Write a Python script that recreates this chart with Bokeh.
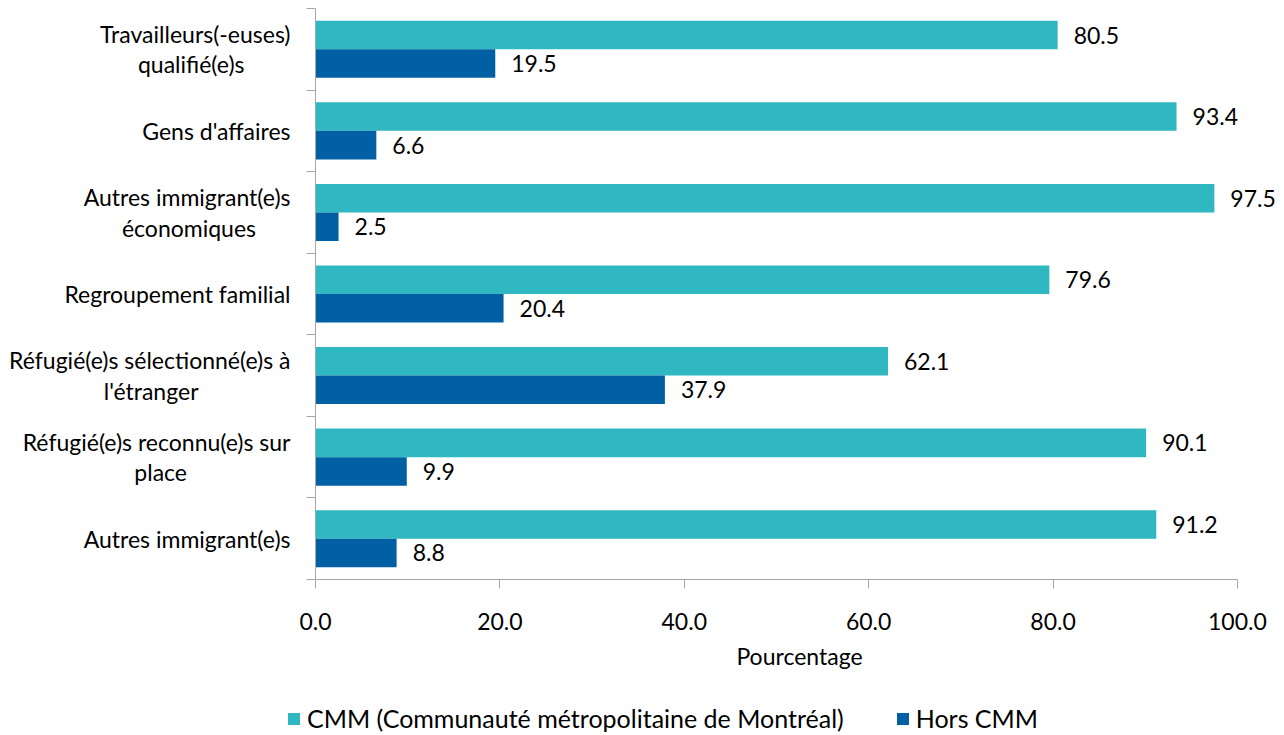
from bokeh.plotting import figure
from bokeh.models import (Range1d, FixedTicker, NumeralTickFormatter, LabelSet,
                          ColumnDataSource, Legend, LegendItem)
from bokeh.core.properties import value
from bokeh.embed import file_html
from bokeh.resources import INLINE

categories = ["Travailleurs(-euses)\nqualifié(e)s", "Gens d'affaires",
              "Autres immigrant(e)s\néconomiques", "Regroupement familial",
              "Réfugié(e)s sélectionné(e)s à\nl'étranger",
              "Réfugié(e)s reconnu(e)s sur\nplace", "Autres immigrant(e)s"]
cmm = [80.5, 93.4, 97.5, 79.6, 62.1, 90.1, 91.2]
hors = [19.5, 6.6, 2.5, 20.4, 37.9, 9.9, 8.8]
series_names = ["CMM (Communauté métropolitaine de Montréal)", "Hors CMM"]
x_ticks = [0, 20, 40, 60, 80, 100]
x_label = "Pourcentage"

FONT = "Lato"
FS = "23px"
FS_LEG = "25px"
C_CMM = "#2FB8C1"
C_HORS = "#0060A3"
AX = "#A6A6A6"


def est_width(s):
    w = 0.0
    for ch in s:
        if ch == " ":
            w += 0.19
        elif ch in "ijl'()-.,|":
            w += 0.27
        elif ch in "ftr":
            w += 0.35
        elif ch in "mw":
            w += 0.8
        elif ch.isupper():
            w += 0.65
        else:
            w += 0.52
    return w


def centre_lines(label):
    # right-aligned tick labels: pad shorter lines so lines look centred
    lines = label.split("\n")
    if len(lines) == 1:
        return label
    widths = [est_width(l) for l in lines]
    wmax = max(widths)
    out = []
    for l, w in zip(lines, widths):
        k = int(round((wmax - w) / 2 / 0.5))
        out.append(l + "\u2002" * k)
    return "\n".join(out)


n = len(categories)
centers = [n - i - 0.5 for i in range(n)]
bounds = list(range(n + 1))
bw = 0.35

p = figure(width=1284, height=700, output_backend="svg", toolbar_location=None,
           x_range=Range1d(0, 105), y_range=Range1d(0, n),
           min_border_left=315, min_border_right=1, min_border_top=8,
           min_border_bottom=121)
p.outline_line_color = None
p.grid.visible = False
p.background_fill_color = "white"

src_c = ColumnDataSource(dict(y=[c + bw / 2 for c in centers], x=cmm,
                              t=[f"{v:.1f}" for v in cmm]))
src_h = ColumnDataSource(dict(y=[c - bw / 2 for c in centers], x=hors,
                              t=[f"{v:.1f}" for v in hors]))
r1 = p.hbar(y="y", right="x", left=0, height=bw, source=src_c,
            fill_color=C_CMM, line_color=None)
r2 = p.hbar(y="y", right="x", left=0, height=bw, source=src_h,
            fill_color=C_HORS, line_color=None)

for s in (src_c, src_h):
    p.add_layout(LabelSet(x="x", y="y", text="t", source=s, x_offset=16,
                          text_baseline="middle", text_align="left",
                          text_font=value(FONT), text_font_size=value(FS),
                          text_color="black"))

ya = p.yaxis[0]
ya.ticker = FixedTicker(ticks=centers, minor_ticks=bounds)
ya.major_label_overrides = {c: centre_lines(lab) for c, lab in zip(centers, categories)}
ya.major_tick_line_color = None
ya.major_tick_out = 0
ya.major_tick_in = 0
ya.minor_tick_out = 9
ya.minor_tick_in = 0
ya.minor_tick_line_color = AX
ya.axis_line_color = AX
ya.major_label_standoff = 16
ya.major_label_text_font = FONT
ya.major_label_text_font_size = FS
ya.major_label_text_color = "black"
ya.major_label_text_line_height = 1.08

xa = p.xaxis[0]
xa.ticker = FixedTicker(ticks=x_ticks)
xa.bounds = (0, 100)
xa.formatter = NumeralTickFormatter(format="0.0")
xa.major_tick_out = 9
xa.major_tick_in = 0
xa.minor_tick_line_color = None
xa.major_tick_line_color = AX
xa.axis_line_color = AX
xa.major_label_standoff = 24
xa.major_label_text_font = FONT
xa.major_label_text_font_size = FS
xa.major_label_text_color = "black"
xa.axis_label = x_label
xa.axis_label_standoff = 9
xa.axis_label_text_font = FONT
xa.axis_label_text_font_size = FS
xa.axis_label_text_font_style = "normal"
xa.axis_label_text_color = "black"

# legend strip below the chart (separate root so that it is not frame-aligned);
# its ranges lie outside the data so the swatch renderers draw no bars there
lf = figure(width=1284, height=35, output_backend="svg", toolbar_location=None,
            x_range=Range1d(-2, -1), y_range=Range1d(-2, -1),
            x_axis_type=None, y_axis_type=None,
            min_border_left=0, min_border_right=0, min_border_top=0,
            min_border_bottom=0)
lf.outline_line_color = None
lf.grid.visible = False
lr1 = lf.hbar(y="y", right="x", left=0, height=bw, source=src_c,
              fill_color=C_CMM, line_color=None)
lr2 = lf.hbar(y="y", right="x", left=0, height=bw, source=src_h,
              fill_color=C_HORS, line_color=None)
legend = Legend(items=[LegendItem(label=series_names[0], renderers=[lr1]),
                       LegendItem(label=series_names[1], renderers=[lr2])],
                location=(286, 2), orientation="horizontal",
                glyph_width=15, glyph_height=15, label_standoff=6, spacing=51,
                padding=0, margin=0, border_line_color=None,
                background_fill_alpha=0, label_text_font=FONT,
                label_text_font_size=FS_LEG, label_text_color="black")
lf.add_layout(legend)

open("out.html", "w").write(file_html([p, lf], INLINE))
